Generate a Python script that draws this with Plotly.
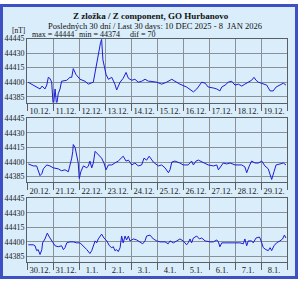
import pandas as pd
import plotly.graph_objects as go

# ---------------- data (day offset within panel, Z value in nT) ----------------
p1_start = "2025-12-10"
p1_t = [0.04, 0.23, 0.37, 0.5, 0.58, 0.69, 0.76, 0.82, 0.88, 0.95, 1.01, 1.08, 1.14, 1.2, 1.27, 1.33,
        1.53, 1.65, 1.72, 1.78, 1.88, 2.04, 2.23, 2.36, 2.55, 2.62, 2.74, 2.83, 2.87, 2.92, 3.04, 3.13,
        3.26, 3.38, 3.45, 3.58, 3.7, 3.81, 3.9, 4.03, 4.15, 4.28, 4.41, 4.54, 4.67, 4.73, 4.99, 5.18,
        5.37, 5.57, 5.69, 5.88, 6.14, 6.4, 6.53, 6.72, 6.85, 6.97, 7.17, 7.3, 7.42, 7.49, 7.62, 7.74,
        7.87, 8.0, 8.13, 8.26, 8.38, 8.51, 8.64, 8.73, 8.81, 8.9, 9.03, 9.22, 9.35, 9.47, 9.58, 9.73,
        9.86, 9.96]
p1_z = [44400, 44397, 44395, 44393, 44396, 44393, 44397, 44405, 44404, 44400, 44374, 44393, 44376, 44388, 44393, 44401,
        44402, 44405, 44405, 44414, 44408, 44403, 44401, 44398, 44400, 44410, 44430, 44441, 44444, 44423, 44408, 44403,
        44405, 44398, 44392, 44400, 44404, 44410, 44404, 44402, 44403, 44400, 44401, 44403, 44401, 44401, 44400, 44398,
        44400, 44403, 44401, 44398, 44395, 44390, 44393, 44400, 44399, 44395, 44394, 44393, 44391, 44395, 44397, 44400,
        44401, 44397, 44398, 44396, 44398, 44400, 44402, 44405, 44402, 44400, 44399, 44397, 44391, 44391, 44395, 44397,
        44399, 44397]

p2_start = "2025-12-20"
p2_t = [0.05, 0.24, 0.37, 0.43, 0.5, 0.57, 0.63, 0.76, 0.88, 1.01, 1.2, 1.33, 1.46, 1.59, 1.65, 1.72,
        1.76, 1.78, 1.85, 1.91, 1.97, 2.01, 2.07, 2.17, 2.3, 2.36, 2.42, 2.49, 2.55, 2.62, 2.74, 2.87,
        2.96, 3.04, 3.13, 3.26, 3.38, 3.51, 3.7, 3.81, 3.9, 4.03, 4.15, 4.28, 4.41, 4.5, 4.6, 4.7,
        4.86, 5.05, 5.18, 5.31, 5.44, 5.5, 5.57, 5.69, 5.88, 6.01, 6.2, 6.33, 6.4, 6.5, 6.59, 6.72,
        6.85, 6.97, 7.17, 7.3, 7.36, 7.45, 7.55, 7.68, 7.81, 8.0, 8.26, 8.38, 8.45, 8.55, 8.64, 8.77,
        8.9, 9.03, 9.15, 9.28, 9.41, 9.5, 9.58, 9.73, 9.86, 9.96]
p2_z = [44398, 44396, 44396, 44391, 44386, 44388, 44393, 44397, 44396, 44394, 44393, 44391, 44392, 44390, 44396, 44404,
        44411, 44418, 44415, 44408, 44399, 44383, 44390, 44396, 44394, 44396, 44401, 44394, 44399, 44411, 44408, 44404,
        44399, 44392, 44397, 44397, 44399, 44401, 44406, 44401, 44402, 44397, 44399, 44396, 44397, 44404, 44402, 44406,
        44400, 44396, 44397, 44394, 44389, 44392, 44400, 44401, 44399, 44397, 44397, 44401, 44397, 44401, 44402, 44400,
        44398, 44397, 44396, 44397, 44392, 44396, 44399, 44398, 44399, 44397, 44397, 44395, 44389, 44396, 44401, 44399,
        44399, 44401, 44396, 44393, 44382, 44390, 44397, 44398, 44399, 44397]

p3_start = "2025-12-30"
p3_t = [0.05, 0.24, 0.31, 0.37, 0.43, 0.5, 0.57, 0.6, 0.69, 0.78, 0.86, 0.95, 1.08, 1.2, 1.33, 1.4,
        1.46, 1.53, 1.65, 1.78, 1.91, 2.04, 2.17, 2.3, 2.42, 2.49, 2.62, 2.68, 2.74, 2.87, 2.96, 3.07,
        3.17, 3.26, 3.32, 3.38, 3.45, 3.51, 3.58, 3.64, 3.7, 3.77, 3.83, 3.9, 3.96, 4.09, 4.22, 4.35,
        4.45, 4.54, 4.6, 4.73, 4.86, 4.99, 5.12, 5.31, 5.43, 5.5, 5.63, 5.76, 5.88, 6.01, 6.14, 6.2,
        6.27, 6.33, 6.4, 6.53, 6.63, 6.72, 6.85, 7.04, 7.17, 7.3, 7.36, 7.42, 7.49, 7.62, 7.81, 8.0,
        8.19, 8.32, 8.38, 8.45, 8.51, 8.64, 8.7, 8.81, 8.94, 8.99, 9.09, 9.19, 9.28, 9.35, 9.41, 9.5,
        9.6, 9.73, 9.83, 9.9, 9.96]
p3_z = [44397, 44397, 44396, 44391, 44392, 44387, 44392, 44399, 44403, 44409, 44405, 44401, 44396, 44395, 44396, 44392,
        44394, 44399, 44400, 44400, 44399, 44399, 44396, 44392, 44388, 44391, 44401, 44399, 44403, 44408, 44404, 44401,
        44396, 44394, 44395, 44391, 44392, 44390, 44394, 44406, 44399, 44406, 44402, 44406, 44401, 44403, 44402, 44400,
        44398, 44401, 44406, 44407, 44403, 44401, 44400, 44400, 44398, 44401, 44399, 44401, 44403, 44401, 44397, 44399,
        44403, 44399, 44404, 44406, 44403, 44404, 44401, 44400, 44400, 44402, 44400, 44395, 44399, 44399, 44399, 44399,
        44399, 44398, 44403, 44396, 44401, 44401, 44399, 44404, 44405, 44402, 44394, 44392, 44391, 44394, 44391, 44396,
        44399, 44401, 44403, 44407, 44404]

y_ticks = [44385, 44400, 44415, 44430, 44445]
y_range = [44379, 44445]

title_main = "Z zložka / Z component, GO Hurbanovo"
title_sub = "Posledných 30 dní / Last 30 days: 10 DEC 2025 - 8  JAN 2026"
unit_label = "[nT]"
stat_max = "max = 44444"
stat_min = "min = 44374"
stat_dif = "dif = 70"

# ---------------- figure ----------------
W, H = 300, 281
FONT = "Liberation Serif"
LINE = "#1c1cd6"
GRID = "#8a9096"
BORDER = "#5a5f66"

panels = [(p1_start, p1_t, p1_z), (p2_start, p2_t, p2_z), (p3_start, p3_t, p3_z)]
tops = [35, 116, 197]
ph = 65
x_dom = [27 / W, 287 / W]

fig = go.Figure()
for i, (start, t, z) in enumerate(panels):
    s = pd.Timestamp(start)
    xs = [s + pd.Timedelta(days=v) for v in t]
    n = "" if i == 0 else str(i + 1)
    fig.add_trace(go.Scatter(x=xs, y=z, mode="lines", line=dict(color=LINE, width=1),
                             xaxis="x" + n, yaxis="y" + n, showlegend=False, hoverinfo="skip"))
    top = tops[i]
    ydom = [1 - (top + ph) / H, 1 - top / H]
    fig.update_layout(**{
        "xaxis" + n: dict(domain=x_dom, anchor="y" + n, type="date",
                          range=[s, s + pd.Timedelta(days=10)],
                          dtick=86400000, tick0=s, tickformat="%-d.%-m.",
                          ticklabelmode="period", ticks="outside", ticklen=7,
                          ticklabelstandoff=-7,
                          tickcolor=BORDER, tickwidth=1,
                          showgrid=True, gridcolor=GRID, gridwidth=1,
                          showline=True, linecolor=BORDER, linewidth=1, mirror=True,
                          tickfont=dict(family=FONT, size=8.5, color="#222"),
                          zeroline=False, fixedrange=True),
        "yaxis" + n: dict(domain=ydom, anchor="x" + n, range=y_range,
                          tickvals=y_ticks, ticktext=[str(v) for v in y_ticks],
                          ticks="", showgrid=True, gridcolor=GRID, gridwidth=1,
                          showline=True, linecolor=BORDER, linewidth=1, mirror=True,
                          tickfont=dict(family=FONT, size=8, color="#222"),
                          zeroline=False, fixedrange=True),
    })

def px_x(v):
    return v / W

def px_y(v):
    return 1 - v / H

annos = [
    dict(text="<b>" + title_main + "</b>", x=px_x(151), y=px_y(12), size=9),
    dict(text=title_sub, x=px_x(155), y=px_y(22), size=8.5),
    dict(text=unit_label, x=px_x(18), y=px_y(26.5), size=7.5),
    dict(text=stat_max, x=px_x(53), y=px_y(31), size=8),
    dict(text=stat_min, x=px_x(99), y=px_y(31), size=8),
    dict(text=stat_dif, x=px_x(142), y=px_y(31), size=8),
]
for a in annos:
    fig.add_annotation(text=a["text"], x=a["x"], y=a["y"], xref="paper", yref="paper",
                       xanchor="center", yanchor="middle", showarrow=False,
                       font=dict(family=FONT, size=a["size"], color="#111"))

fig.add_shape(type="rect", xref="paper", yref="paper",
              x0=px_x(1.5), x1=px_x(296.5), y0=px_y(277.5), y1=px_y(1.5),
              line=dict(color="#3f4fc4", width=3), fillcolor="#d9edfb", layer="below")

fig.update_layout(width=W, height=H, margin=dict(l=0, r=0, t=0, b=0),
                  paper_bgcolor="white", plot_bgcolor="#e2f2fe", showlegend=False)

fig.write_html("out.html")
